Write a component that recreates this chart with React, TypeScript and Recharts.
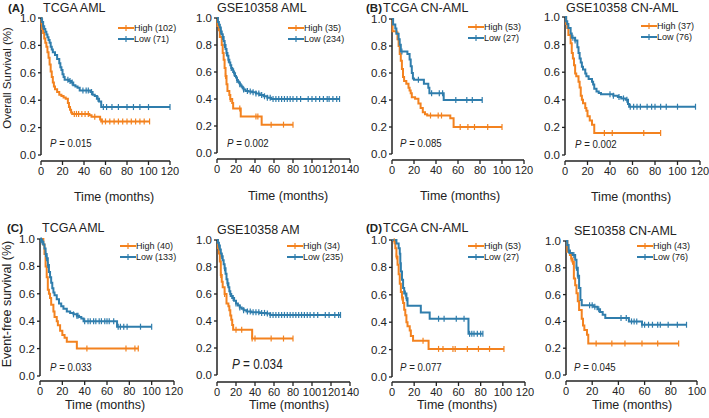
import { ComposedChart, Line, XAxis, YAxis, ReferenceLine } from "recharts";

const ORANGE = "#f3821f";
const BLUE = "#2f7dac";
const AXIS = "#222";
const FONT = '"Liberation Sans", Arial, sans-serif';

type Pt = [number, number];

// --- Overall survival -------------------------------------------------------
const tcgaOsHigh: Pt[] = [[0, 1], [0.5, 0.96], [1, 0.92], [2, 0.89], [3, 0.85], [4, 0.82], [5, 0.79], [6, 0.75], [7, 0.71], [8, 0.66], [9, 0.61], [10, 0.57], [11, 0.53], [12, 0.5], [13, 0.48], [15, 0.46], [17, 0.44], [19, 0.43], [21, 0.42], [23, 0.41], [25, 0.38], [26, 0.35], [27, 0.33], [28, 0.31], [29, 0.3], [45, 0.29], [47, 0.28], [55, 0.26], [56, 0.245], [101, 0.245]];
const tcgaOsHighCens = [31, 33, 35, 38, 41, 44, 50, 57, 60, 64, 68, 72, 76, 80, 84, 88, 92, 96, 101];
const tcgaOsLow: Pt[] = [[0, 1], [0.5, 0.99], [1, 0.97], [2, 0.94], [3, 0.92], [4, 0.9], [5, 0.88], [6, 0.86], [7, 0.84], [8, 0.82], [9, 0.79], [10, 0.77], [11, 0.75], [13, 0.73], [15, 0.7], [17, 0.67], [18, 0.64], [19, 0.62], [20, 0.59], [21, 0.57], [22, 0.55], [26, 0.54], [28, 0.53], [30, 0.51], [32, 0.5], [34, 0.49], [36, 0.47], [46, 0.46], [48, 0.44], [50, 0.43], [52, 0.41], [54, 0.39], [56, 0.35], [120, 0.35]];
const tcgaOsLowCens = [2, 25, 27, 29, 39, 42, 44, 47, 53, 58, 61, 66, 72, 80, 86, 92, 100, 120];

const gseOsHigh: Pt[] = [[0, 1], [0.5, 0.94], [2, 0.91], [3, 0.86], [5, 0.8], [6, 0.74], [7, 0.69], [8, 0.63], [9, 0.57], [10, 0.51], [11, 0.46], [13, 0.43], [14, 0.4], [16, 0.37], [17, 0.33], [25, 0.27], [47, 0.21], [80, 0.21]];
const gseOsHighCens = [9, 14, 24, 41, 43, 57, 70, 80];
const gseOsLow: Pt[] = [[0, 1], [1, 0.97], [2, 0.95], [3, 0.93], [4, 0.9], [5, 0.88], [6, 0.86], [7, 0.83], [8, 0.8], [9, 0.77], [10, 0.74], [11, 0.72], [12, 0.69], [13, 0.67], [14, 0.65], [15, 0.63], [16, 0.62], [17, 0.6], [18, 0.59], [19, 0.57], [20, 0.56], [21, 0.54], [22, 0.53], [23, 0.52], [24, 0.51], [25, 0.5], [26, 0.49], [27, 0.48], [28, 0.47], [30, 0.46], [33, 0.455], [37, 0.45], [41, 0.44], [45, 0.43], [49, 0.42], [53, 0.41], [57, 0.4], [129, 0.4]];
const gseOsLowCens = [4, 6, 8, 10, 12, 15, 18, 21, 24, 28, 32, 35, 38, 41, 44, 47, 50, 53, 56, 59, 62, 65, 68, 71, 74, 77, 80, 84, 88, 96, 100, 104, 108, 112, 116, 118, 122, 126, 129];

const tcgaCnOsHigh: Pt[] = [[0, 1], [0.5, 0.91], [4, 0.9], [5, 0.85], [6, 0.8], [7, 0.74], [8, 0.69], [9, 0.63], [10, 0.57], [11, 0.54], [13, 0.52], [15, 0.49], [16, 0.47], [17, 0.45], [18, 0.42], [21, 0.41], [24, 0.375], [26, 0.34], [28, 0.31], [30, 0.295], [32, 0.285], [53, 0.265], [56, 0.2], [100, 0.2]];
const tcgaCnOsHighCens = [35, 42, 45, 62, 69, 75, 87, 100];
const tcgaCnOsLow: Pt[] = [[0, 1], [1, 0.96], [3, 0.93], [4, 0.89], [6, 0.85], [7, 0.81], [8, 0.76], [14, 0.74], [16, 0.7], [17, 0.65], [18, 0.6], [19, 0.56], [20, 0.55], [29, 0.52], [33, 0.49], [34, 0.45], [47, 0.4], [82, 0.4]];
const tcgaCnOsLowCens = [9, 24, 36, 43, 46, 58, 68, 73, 82];

const gseCnOsHigh: Pt[] = [[0, 1], [1, 0.95], [2, 0.92], [3, 0.87], [5, 0.81], [6, 0.74], [7, 0.7], [8, 0.65], [9, 0.59], [10, 0.57], [12, 0.53], [13, 0.49], [14, 0.43], [15, 0.4], [16, 0.375], [18, 0.34], [19, 0.32], [20, 0.28], [22, 0.25], [24, 0.22], [26, 0.16], [85, 0.16]];
const gseCnOsHighCens = [35, 42, 70, 85];
const gseCnOsLow: Pt[] = [[0, 1], [1, 0.97], [2, 0.95], [3, 0.92], [5, 0.88], [6, 0.85], [9, 0.83], [11, 0.78], [12, 0.74], [13, 0.7], [14, 0.67], [15, 0.64], [16, 0.62], [18, 0.59], [19, 0.57], [21, 0.55], [24, 0.53], [25, 0.51], [26, 0.48], [28, 0.46], [30, 0.45], [32, 0.44], [43, 0.43], [47, 0.42], [50, 0.41], [54, 0.4], [56, 0.37], [57, 0.35], [116, 0.35]];
const gseCnOsLowCens = [7, 9, 40, 43, 48, 52, 55, 58, 61, 64, 67, 73, 77, 80, 85, 90, 100, 116];

// --- Event-free survival ----------------------------------------------------
const tcgaEfsHigh: Pt[] = [[0, 1], [3, 0.96], [4, 0.89], [5, 0.8], [6, 0.72], [7, 0.63], [8, 0.6], [9, 0.57], [10, 0.52], [12, 0.47], [13, 0.43], [15, 0.4], [16, 0.37], [18, 0.33], [20, 0.3], [22, 0.28], [24, 0.25], [33, 0.2], [88, 0.2]];
const tcgaEfsHighCens = [42, 77, 85, 88];
const tcgaEfsLow: Pt[] = [[0, 1], [1, 0.99], [2, 0.98], [3, 0.96], [4, 0.93], [5, 0.89], [6, 0.86], [7, 0.81], [8, 0.76], [9, 0.72], [10, 0.68], [11, 0.64], [12, 0.61], [13, 0.59], [15, 0.56], [17, 0.53], [19, 0.51], [21, 0.49], [24, 0.47], [27, 0.46], [30, 0.45], [33, 0.44], [35, 0.43], [37, 0.42], [39, 0.4], [68, 0.4], [69, 0.36], [100, 0.36]];
const tcgaEfsLowCens = [1, 2, 5, 6, 7, 30, 33, 34, 40, 43, 45, 48, 50, 53, 55, 58, 60, 62, 66, 70, 72, 75, 78, 90, 100];

const gseEfsHigh: Pt[] = [[0, 1], [1, 0.94], [2, 0.9], [3, 0.84], [4, 0.74], [5, 0.69], [6, 0.65], [8, 0.6], [10, 0.53], [12, 0.51], [13, 0.48], [14, 0.44], [15, 0.41], [16, 0.37], [17, 0.335], [37, 0.27], [80, 0.27]];
const gseEfsHighCens = [4, 8, 20, 26, 37, 40, 57, 70, 80];
const gseEfsLow: Pt[] = [[0, 1], [1, 0.98], [2, 0.96], [3, 0.93], [4, 0.9], [5, 0.88], [6, 0.85], [7, 0.82], [8, 0.79], [9, 0.75], [10, 0.71], [11, 0.68], [12, 0.65], [13, 0.62], [14, 0.6], [15, 0.585], [16, 0.57], [18, 0.55], [20, 0.53], [22, 0.515], [24, 0.5], [26, 0.49], [28, 0.48], [31, 0.47], [36, 0.465], [45, 0.46], [52, 0.455], [56, 0.445], [130, 0.445]];
const gseEfsLowCens = [2, 5, 8, 11, 14, 17, 20, 24, 28, 32, 35, 38, 41, 44, 47, 50, 53, 56, 59, 62, 65, 68, 71, 74, 77, 80, 83, 86, 89, 92, 95, 98, 102, 106, 114, 118, 124, 128, 130];

const tcgaCnEfsHigh: Pt[] = [[0, 1], [2, 0.99], [3, 0.94], [4, 0.88], [5, 0.82], [6, 0.75], [7, 0.68], [8, 0.62], [9, 0.58], [10, 0.54], [11, 0.49], [12, 0.45], [13, 0.4], [14, 0.37], [16, 0.34], [17, 0.3], [19, 0.265], [33, 0.205], [101, 0.205]];
const tcgaCnEfsHighCens = [2, 4, 9, 28, 42, 46, 55, 57, 68, 78, 88, 101];
const tcgaCnEfsLow: Pt[] = [[0, 1], [4, 0.975], [6, 0.94], [7, 0.9], [7.5, 0.83], [8, 0.77], [9, 0.71], [10, 0.65], [11, 0.61], [13, 0.575], [14, 0.52], [26, 0.47], [34, 0.425], [69, 0.315], [82, 0.315]];
const tcgaCnEfsLowCens = [12, 13, 42, 47, 58, 65, 70, 72, 74, 77, 80, 82];

const gseCnEfsHigh: Pt[] = [[0, 1], [1, 0.92], [3, 0.895], [4, 0.87], [5, 0.845], [6, 0.72], [7, 0.67], [8, 0.61], [9, 0.55], [10, 0.485], [12, 0.42], [13, 0.37], [14, 0.335], [16, 0.3], [17, 0.235], [86, 0.235]];
const gseCnEfsHighCens = [4, 5, 23, 35, 45, 58, 70, 86];
const gseCnEfsLow: Pt[] = [[0, 1], [1, 0.97], [2, 0.93], [3, 0.91], [5, 0.895], [7, 0.86], [8, 0.8], [9, 0.74], [10, 0.65], [11, 0.56], [12, 0.52], [21, 0.51], [24, 0.49], [26, 0.47], [28, 0.45], [30, 0.425], [48, 0.4], [58, 0.375], [92, 0.375]];
const gseCnEfsLowCens = [2, 6, 8, 9, 18, 20, 22, 25, 42, 46, 50, 52, 54, 58, 60, 63, 66, 70, 72, 78, 85, 92];

// --- panel labels -----------------------------------------------------------
const titles = ["TCGA AML", "GSE10358 AML", "TCGA CN-AML", "GSE10358 CN-AML", "TCGA AML", "GSE10358 AM", "TCGA CN-AML", "SE10358 CN-AML"];
const letters = ["(A)", "", "(B)", "", "(C)", "", "(D)", ""];
const highN = [102, 35, 53, 37, 40, 34, 53, 43];
const lowN = [71, 234, 27, 76, 133, 235, 27, 76];
const pValues = ["0.015", "0.002", "0.085", "0.002", "0.033", "0.034", "0.077", "0.045"];
const xMaxes = [120, 140, 120, 120, 120, 140, 120, 100];
const yTicks = [0, 0.2, 0.4, 0.6, 0.8, 1];
const rowLabels = ["Overall Survival (%)", "Event-free survival (%)"];
const xLabel = "Time (months)";

const highCurves = [tcgaOsHigh, gseOsHigh, tcgaCnOsHigh, gseCnOsHigh, tcgaEfsHigh, gseEfsHigh, tcgaCnEfsHigh, gseCnEfsHigh];
const lowCurves = [tcgaOsLow, gseOsLow, tcgaCnOsLow, gseCnOsLow, tcgaEfsLow, gseEfsLow, tcgaCnEfsLow, gseCnEfsLow];
const highCens = [tcgaOsHighCens, gseOsHighCens, tcgaCnOsHighCens, gseCnOsHighCens, tcgaEfsHighCens, gseEfsHighCens, tcgaCnEfsHighCens, gseCnEfsHighCens];
const lowCens = [tcgaOsLowCens, gseOsLowCens, tcgaCnOsLowCens, gseCnOsLowCens, tcgaEfsLowCens, gseEfsLowCens, tcgaCnEfsLowCens, gseCnEfsLowCens];

// pixel layout of each panel: y-axis x, x-axis end, top (y=1), y=0 line, x-axis line
const layout = [
  { x0: 41, x1: 170, top: 18, zero: 155, axis: 161, tx: 43, ty: 8, lx: 8, legX: 118, legY: 28, px: 50, py: 144, pf: 11.5, timeX: 114, timeY: 197 },
  { x0: 217, x1: 350, top: 18, zero: 153, axis: 159, tx: 217, ty: 8, lx: 0, legX: 288, legY: 28, px: 227, py: 144, pf: 11.5, timeX: 288, timeY: 196 },
  { x0: 392, x1: 524, top: 19, zero: 154, axis: 160, tx: 383, ty: 8, lx: 366, legX: 468, legY: 27, px: 400, py: 144, pf: 11.5, timeX: 460, timeY: 196 },
  { x0: 565, x1: 700, top: 17, zero: 155, axis: 161, tx: 566, ty: 8, lx: 0, legX: 641, legY: 26, px: 575, py: 145, pf: 11.5, timeX: 631, timeY: 197 },
  { x0: 40, x1: 174, top: 239, zero: 376, axis: 381, tx: 42, ty: 228, lx: 7, legX: 120, legY: 246, px: 50, py: 368, pf: 11.5, timeX: 105, timeY: 405 },
  { x0: 217, x1: 350, top: 240, zero: 375, axis: 382, tx: 217, ty: 230, lx: 0, legX: 287, legY: 246, px: 232, py: 364, pf: 14, timeX: 289, timeY: 405 },
  { x0: 392, x1: 525, top: 240, zero: 377, axis: 382, tx: 383, ty: 228, lx: 366, legX: 468, legY: 246, px: 400, py: 368, pf: 11.5, timeX: 457, timeY: 405 },
  { x0: 566, x1: 697, top: 241, zero: 375, axis: 381, tx: 574, ty: 231, lx: 0, legX: 637, legY: 246, px: 574, py: 368, pf: 11.5, timeX: 632, timeY: 405 },
];

function stepValue(curve: Pt[], t: number) {
  let s = curve[0][1];
  for (const [ct, cs] of curve) if (ct <= t) s = cs;
  return s;
}

function censorTick(color: string) {
  return (props: any) => {
    const { cx, cy, index } = props;
    if (cx == null || cy == null) return <g key={`n-${index}`} />;
    return <line key={`c-${index}`} x1={cx} x2={cx} y1={cy - 3} y2={cy + 3} stroke={color} strokeWidth={1.2} />;
  };
}

function LegendRow({ color, text, top }: { color: string; text: string; top: number }) {
  return (
    <div style={{ position: "absolute", left: 0, top, height: 10, display: "flex", alignItems: "center", whiteSpace: "nowrap" }}>
      <svg width={16} height={8} style={{ display: "block" }}>
        <line x1={0} x2={16} y1={4} y2={4} stroke={color} strokeWidth={2} />
        <line x1={8} x2={8} y1={1} y2={7} stroke={color} strokeWidth={1.2} />
      </svg>
      <span style={{ fontSize: 9.5, lineHeight: "10px", color: "#222", display: "inline-block", transform: "scaleX(0.95)", transformOrigin: "left center" }}>{text}</span>
    </div>
  );
}

function KMPanel({ i }: { i: number }) {
  const L = layout[i];
  const xMax = xMaxes[i];
  const YW = 40, MT = 8, MR = 18, XH = 22;
  const w = L.x1 - L.x0 + YW + MR;
  const h = L.axis - L.top + MT + XH;
  const xTicks: number[] = [];
  for (let t = 0; t <= xMax; t += 20) xTicks.push(t);
  const toRows = (c: Pt[]) => c.map(([t, s]) => ({ t, s }));
  const high = toRows(highCurves[i]);
  const low = toRows(lowCurves[i]);
  const highC = highCens[i].map((t) => ({ t, s: stepValue(highCurves[i], t) }));
  const lowC = lowCens[i].map((t) => ({ t, s: stepValue(lowCurves[i], t) }));

  return (
    <>
      <div style={{ position: "absolute", left: L.x0 - YW, top: L.top - MT }}>
        <ComposedChart width={w} height={h} margin={{ top: MT, right: MR, bottom: 0, left: 0 }}>
          <XAxis
            dataKey="t"
            type="number"
            domain={[0, xMax]}
            ticks={xTicks}
            height={XH}
            tickSize={4}
            tickMargin={2}
            axisLine={{ stroke: AXIS, strokeWidth: 1.5 }}
            tickLine={{ stroke: AXIS, strokeWidth: 1.3 }}
            tick={{ fontSize: 11, fill: "#222", fontFamily: FONT }}
            interval={0}
          />
          <YAxis
            type="number"
            domain={[0, 1]}
            ticks={yTicks}
            tickFormatter={(v: number) => v.toFixed(1)}
            width={YW}
            padding={{ top: 0, bottom: L.axis - L.zero }}
            axisLine={false}
            tickSize={3}
            tickMargin={2}
            tickLine={{ stroke: AXIS, strokeWidth: 1.3 }}
            tick={{ fontSize: 11.5, fill: "#222", fontFamily: FONT }}
            interval={0}
          />
          <ReferenceLine segment={[{ x: 0, y: 0 }, { x: 0, y: 1 }]} stroke={AXIS} strokeWidth={1.5} />
          <Line data={high} dataKey="s" type="stepAfter" stroke={ORANGE} strokeWidth={2} dot={false} isAnimationActive={false} />
          <Line data={highC} dataKey="s" type="linear" stroke="none" dot={censorTick(ORANGE)} isAnimationActive={false} />
          <Line data={low} dataKey="s" type="stepAfter" stroke={BLUE} strokeWidth={2} dot={false} isAnimationActive={false} />
          <Line data={lowC} dataKey="s" type="linear" stroke="none" dot={censorTick(BLUE)} isAnimationActive={false} />
        </ComposedChart>
      </div>
      {letters[i] && (
        <div style={{ position: "absolute", left: L.lx, top: L.ty - 7, fontSize: 11.5, fontWeight: 700, lineHeight: "14px" }}>{letters[i]}</div>
      )}
      <div style={{ position: "absolute", left: L.tx, top: L.ty - 7, fontSize: 12.5, lineHeight: "14px", whiteSpace: "nowrap" }}>{titles[i]}</div>
      <div style={{ position: "absolute", left: L.legX, top: L.legY - 5, width: 70, height: 22 }}>
        <LegendRow color={ORANGE} text={`High (${highN[i]})`} top={0} />
        <LegendRow color={BLUE} text={`Low (${lowN[i]})`} top={10.6} />
      </div>
      <div
        style={{
          position: "absolute",
          left: L.px,
          top: L.py - L.pf * 0.6,
          fontSize: L.pf,
          lineHeight: `${L.pf * 1.2}px`,
          whiteSpace: "nowrap",
          transform: "scaleX(0.84)",
          transformOrigin: "left center",
        }}
      >
        <i>P</i> = {pValues[i]}
      </div>
      <div style={{ position: "absolute", left: L.timeX, top: L.timeY, transform: "translate(-50%, -50%)", fontSize: 12.5, lineHeight: "12px", whiteSpace: "nowrap" }}>
        {xLabel}
      </div>
    </>
  );
}

export default function App() {
  return (
    <div
      style={{
        position: "absolute",
        left: 0,
        top: 0,
        width: 709,
        height: 418,
        background: "#fff",
        overflow: "hidden",
        fontFamily: FONT,
        color: "#222",
      }}
    >
      {titles.map((_, i) => (
        <KMPanel key={i} i={i} />
      ))}
      <div style={{ position: "absolute", left: 7, top: 78, transform: "translate(-50%, -50%) rotate(-90deg)", fontSize: 11.5, whiteSpace: "nowrap" }}>
        {rowLabels[0]}
      </div>
      <div style={{ position: "absolute", left: 7, top: 304, transform: "translate(-50%, -50%) rotate(-90deg)", fontSize: 12.5, whiteSpace: "nowrap" }}>
        {rowLabels[1]}
      </div>
    </div>
  );
}
